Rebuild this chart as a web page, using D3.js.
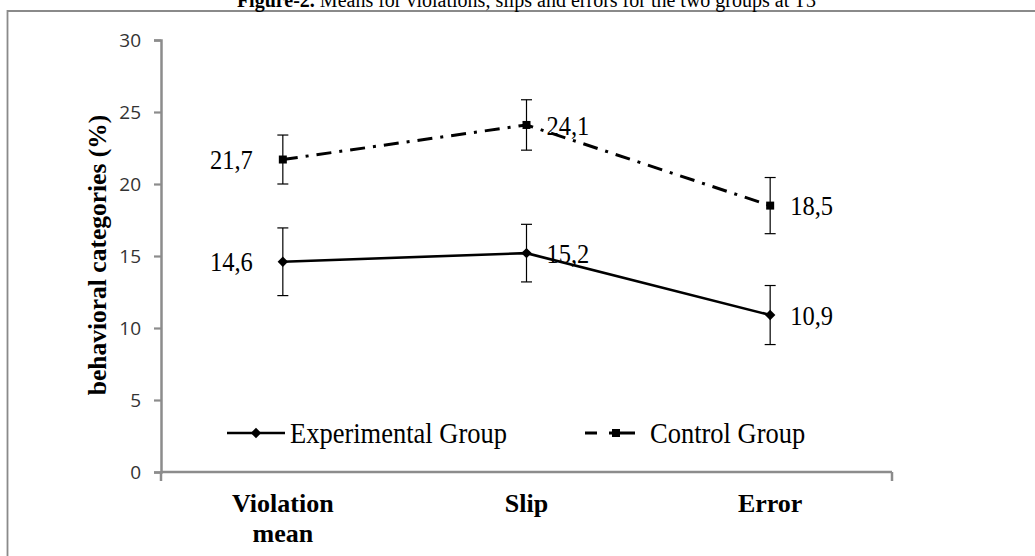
<!DOCTYPE html>
<html>
<head>
<meta charset="utf-8">
<script src="https://cdn.jsdelivr.net/npm/d3@7"></script>
<style>
  html, body { margin: 0; padding: 0; background: #fff; }
  svg { display: block; }
</style>
</head>
<body>
<svg id="chart" width="1035" height="556"></svg>
<script>
// ---- Data ----
const categories = ["Violation mean", "Slip", "Error"];
const categoryLines = [["Violation", "mean"], ["Slip"], ["Error"]];
const seriesNames = ["Experimental Group", "Control Group"];
const experimental = [14.6, 15.2, 10.9];
const experimentalErr = [2.35, 2.0, 2.05];
const control = [21.7, 24.1, 18.5];
const controlErr = [1.7, 1.75, 1.95];
const yTicks = [0, 5, 10, 15, 20, 25, 30];
const titleBold = "Figure-2.";
const titleRest = " Means for violations, slips and errors for the two groups at T3";
const yTitle = "behavioral categories (%)";

// ---- Setup ----
const svg = d3.select("#chart");
const W = 1035, H = 556;
const serif = "'Liberation Serif', 'Times New Roman', serif";
const sans = "'Open Sans', 'Noto Sans', sans-serif";
const axisColor = "#8c8c8c";

const x = d3.scaleBand().domain(categories).range([161, 892]).paddingInner(0).paddingOuter(0);
const y = d3.scaleLinear().domain([0, 30]).range([472, 40]);
const cx = c => x(c) + x.bandwidth() / 2;

// frame
svg.append("path")
  .attr("d", `M7.5,${H} L7.5,11 L${W},11`)
  .attr("fill", "none").attr("stroke", "#8a8a8a").attr("stroke-width", 1.8);

// title
const title = svg.append("text")
  .attr("x", 526.5).attr("y", 7)
  .attr("text-anchor", "middle")
  .attr("font-family", serif).attr("font-size", 20).attr("fill", "#000");
title.append("tspan").attr("font-weight", "bold").text(titleBold);
title.append("tspan").text(titleRest);

// y axis
const yAxis = d3.axisLeft(y).tickValues(yTicks).tickSize(7).tickPadding(13).tickFormat(d3.format("d"));
const gy = svg.append("g").attr("transform", "translate(161,0)").call(yAxis);
gy.select(".domain").attr("stroke", axisColor).attr("stroke-width", 2.5);
gy.selectAll(".tick line").attr("stroke", axisColor).attr("stroke-width", 2.2);
gy.selectAll(".tick text").attr("font-family", sans).attr("font-size", 19).attr("fill", "#333");

// x axis
const xAxis = d3.axisBottom(x).tickSize(0).tickFormat("");
const gx = svg.append("g").attr("transform", "translate(0,472)").call(xAxis);
gx.select(".domain").attr("stroke", axisColor).attr("stroke-width", 2.5).attr("d", "M161,0H892");
gx.selectAll(".endtick").data([161, 892]).enter().append("line")
  .attr("class", "endtick")
  .attr("x1", d => d).attr("x2", d => d).attr("y1", 0).attr("y2", 9)
  .attr("stroke", axisColor).attr("stroke-width", 2.5);

// category labels
categories.forEach((c, i) => {
  const t = svg.append("text")
    .attr("x", cx(c)).attr("y", 511.5)
    .attr("text-anchor", "middle")
    .attr("font-family", serif).attr("font-weight", "bold").attr("font-size", 26).attr("fill", "#000");
  categoryLines[i].forEach((ln, k) => {
    t.append("tspan").attr("x", cx(c)).attr("dy", k === 0 ? 0 : 30).text(ln);
  });
});

// y title
svg.append("text")
  .attr("transform", "translate(106,255) rotate(-90)")
  .attr("text-anchor", "middle")
  .attr("font-family", serif).attr("font-weight", "bold").attr("font-size", 25.5).attr("fill", "#000")
  .text(yTitle);

// ---- Series ----
const fmt = v => d3.format(".1f")(v).replace(".", ",");
const line = d3.line().x((d, i) => cx(categories[i])).y(d => y(d));
const SY = 1.12; // vertical stretch of the serif annotation text

const series = [
  { name: seriesNames[0], values: experimental, err: experimentalErr, dash: null, marker: "diamond" },
  { name: seriesNames[1], values: control, err: controlErr, dash: "15,8,3,8", marker: "square" }
];

function drawMarker(g, type, px, py) {
  if (type === "diamond") {
    g.append("path").attr("d", "M0,-5.2L5.2,0L0,5.2L-5.2,0Z").attr("transform", `translate(${px},${py})`)
      .attr("fill", "#000");
  } else {
    g.append("rect").attr("x", px - 4).attr("y", py - 4).attr("width", 8).attr("height", 8).attr("fill", "#000");
  }
}

function stretchedText(g, px, py, anchor, size, str) {
  return g.append("text")
    .attr("transform", `translate(${px},${py}) scale(1,${SY})`)
    .attr("dy", "0.35em")
    .attr("text-anchor", anchor)
    .attr("font-family", serif).attr("font-size", size).attr("fill", "#000")
    .text(str);
}

series.forEach(s => {
  const g = svg.append("g");
  s.values.forEach((v, i) => {
    const px = cx(categories[i]);
    const top = y(v + s.err[i]), bot = y(v - s.err[i]);
    g.append("line").attr("x1", px).attr("x2", px).attr("y1", top).attr("y2", bot)
      .attr("stroke", "#000").attr("stroke-width", 1.2);
    [top, bot].forEach(yy => g.append("line").attr("x1", px - 5.5).attr("x2", px + 5.5).attr("y1", yy).attr("y2", yy)
      .attr("stroke", "#000").attr("stroke-width", 1.2));
  });
  g.append("path").datum(s.values).attr("d", line)
    .attr("fill", "none").attr("stroke", "#000").attr("stroke-width", s.dash ? 3 : 2.6)
    .attr("stroke-dasharray", s.dash);
  s.values.forEach((v, i) => drawMarker(g, s.marker, cx(categories[i]), y(v)));
  s.values.forEach((v, i) => {
    const px = cx(categories[i]);
    stretchedText(g, i === 0 ? px - 30 : px + 20, y(v), i === 0 ? "end" : "start", 24.5, fmt(v));
  });
});

// ---- Legend ----
const ly = 433;
const lg = svg.append("g");
lg.append("line").attr("x1", 227).attr("x2", 285).attr("y1", ly).attr("y2", ly)
  .attr("stroke", "#000").attr("stroke-width", 2.6);
drawMarker(lg, "diamond", 256, ly);
stretchedText(lg, 290, ly, "start", 26.5, seriesNames[0]);

lg.append("line").attr("x1", 585).attr("x2", 635).attr("y1", ly).attr("y2", ly)
  .attr("stroke", "#000").attr("stroke-width", 3).attr("stroke-dasharray", "12,12,26");
drawMarker(lg, "square", 616, ly);
stretchedText(lg, 650, ly, "start", 26.5, seriesNames[1]);
</script>
</body>
</html>
